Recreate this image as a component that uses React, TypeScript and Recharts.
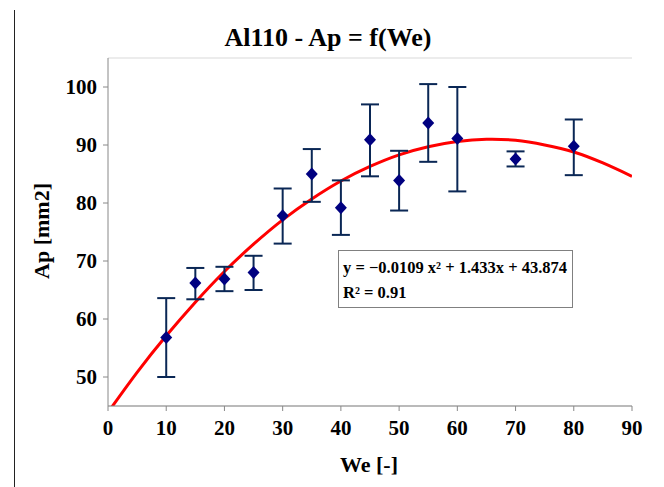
import { ComposedChart, Line, Scatter, ErrorBar, XAxis, YAxis, CartesianGrid } from 'recharts'

// measured points: Weber number, mean area and the error bar ends
const weValues = [10, 15, 20, 25, 30, 35, 40, 45, 50, 55, 60, 70, 80]
const apMeans = [56.8, 66.2, 66.9, 68.0, 77.8, 85.0, 79.2, 90.9, 83.9, 93.8, 91.1, 87.6, 89.8]
const apLow = [50.0, 63.4, 64.8, 65.0, 73.0, 80.2, 74.5, 84.6, 78.7, 87.1, 82.0, 86.3, 84.8]
const apHigh = [63.6, 68.8, 69.0, 70.9, 82.5, 89.3, 83.9, 97.0, 89.0, 100.5, 100.0, 88.9, 94.4]

// polynomial trend line
const trendWe = [0, 5, 10, 15, 20, 25, 30, 35, 40, 45, 50, 55, 60, 65, 70, 75, 80, 85, 90]
const trendAp = [43.9, 50.8, 57.1, 62.9, 68.2, 72.9, 77.1, 80.7, 83.8, 86.3, 88.3, 89.7, 90.6, 91.0, 90.8, 90.0, 88.8, 86.9, 84.6]

const xTicks = [0, 10, 20, 30, 40, 50, 60, 70, 80, 90]
const yTicks = [50, 60, 70, 80, 90, 100]

const points = weValues.map((we, i) => ({
    we,
    ap: apMeans[i],
    err: [apMeans[i] - apLow[i], apHigh[i] - apMeans[i]],
}))
const trend = trendWe.map((we, i) => ({ we, ap: trendAp[i] }))

const FONT = '"Liberation Serif", "Times New Roman", serif'
const tickStyle = { fontSize: 21, fontWeight: 700, fill: '#000', fontFamily: FONT }

const Diamond = (props: any) => {
    const { cx, cy } = props
    if (cx == null || cy == null) return null
    const w = 6
    const h = 6.5
    return (
        <polygon
            points={`${cx},${cy - h} ${cx + w},${cy} ${cx},${cy + h} ${cx - w},${cy}`}
            fill="#000080"
        />
    )
}

export default function App() {
    return (
        <div style={{ position: 'absolute', left: 0, top: 0, width: 664, height: 487, background: '#fff', fontFamily: FONT }}>
            <div style={{ position: 'absolute', left: 14, top: 10, width: 1, height: 477, background: '#222' }} />
            <ComposedChart width={664} height={487} margin={{ top: 58, right: 32, bottom: 51, left: 48 }}>
                <CartesianGrid vertical={false} stroke="#d9d9d9" strokeWidth={1} />
                <XAxis
                    xAxisId="main"
                    type="number"
                    dataKey="we"
                    domain={[0, 90]}
                    ticks={xTicks}
                    height={30}
                    stroke="#888"
                    tickSize={5}
                    tickMargin={9}
                    tick={tickStyle}
                    allowDataOverflow
                />
                <XAxis xAxisId="top" orientation="top" type="number" domain={[0, 90]} height={0} tick={false} tickLine={false} stroke="#888" />
                <YAxis
                    yAxisId="main"
                    type="number"
                    domain={[45, 105]}
                    ticks={yTicks}
                    width={60}
                    stroke="#888"
                    tickSize={5}
                    tickMargin={6}
                    tick={tickStyle}
                    allowDataOverflow
                />
                <YAxis yAxisId="right" orientation="right" type="number" domain={[45, 105]} width={0} tick={false} tickLine={false} stroke="#888" />
                <Line
                    xAxisId="main"
                    yAxisId="main"
                    data={trend}
                    dataKey="ap"
                    type="natural"
                    stroke="#ff0000"
                    strokeWidth={3}
                    dot={false}
                    activeDot={false}
                    isAnimationActive={false}
                />
                <Scatter
                    xAxisId="main"
                    yAxisId="main"
                    data={points}
                    dataKey="ap"
                    shape={<Diamond />}
                    isAnimationActive={false}
                >
                    <ErrorBar dataKey="err" direction="y" width={9} stroke="#0a2755" strokeWidth={2} isAnimationActive={false} />
                </Scatter>
            </ComposedChart>
            <div style={{ position: 'absolute', left: 0, width: 664, top: 23, textAlign: 'center', fontSize: 26, fontWeight: 700, lineHeight: '30px' }}>
                <span style={{ position: 'relative', left: -4 }}>Al110 - Ap = f(We)</span>
            </div>
            <div style={{ position: 'absolute', left: 269, width: 200, top: 452, textAlign: 'center', fontSize: 22, fontWeight: 700, lineHeight: '26px' }}>
                We [-]
            </div>
            <div
                style={{
                    position: 'absolute',
                    left: 42,
                    top: 231,
                    transform: 'translate(-50%, -50%) rotate(-90deg)',
                    fontSize: 22,
                    fontWeight: 700,
                    whiteSpace: 'nowrap',
                    lineHeight: '26px',
                }}
            >
                Ap [mm2]
            </div>
            <div
                style={{
                    position: 'absolute',
                    left: 338,
                    top: 250,
                    width: 235,
                    height: 58,
                    border: '1px solid #808080',
                    background: '#fff',
                    fontSize: 16.5,
                    fontWeight: 700,
                    lineHeight: '25px',
                    padding: '4px 0 0 4px',
                    boxSizing: 'border-box',
                    whiteSpace: 'nowrap',
                }}
            >
                <div>y = −0.0109 x² + 1.433x + 43.874</div>
                <div>R² = 0.91</div>
            </div>
        </div>
    )
}
